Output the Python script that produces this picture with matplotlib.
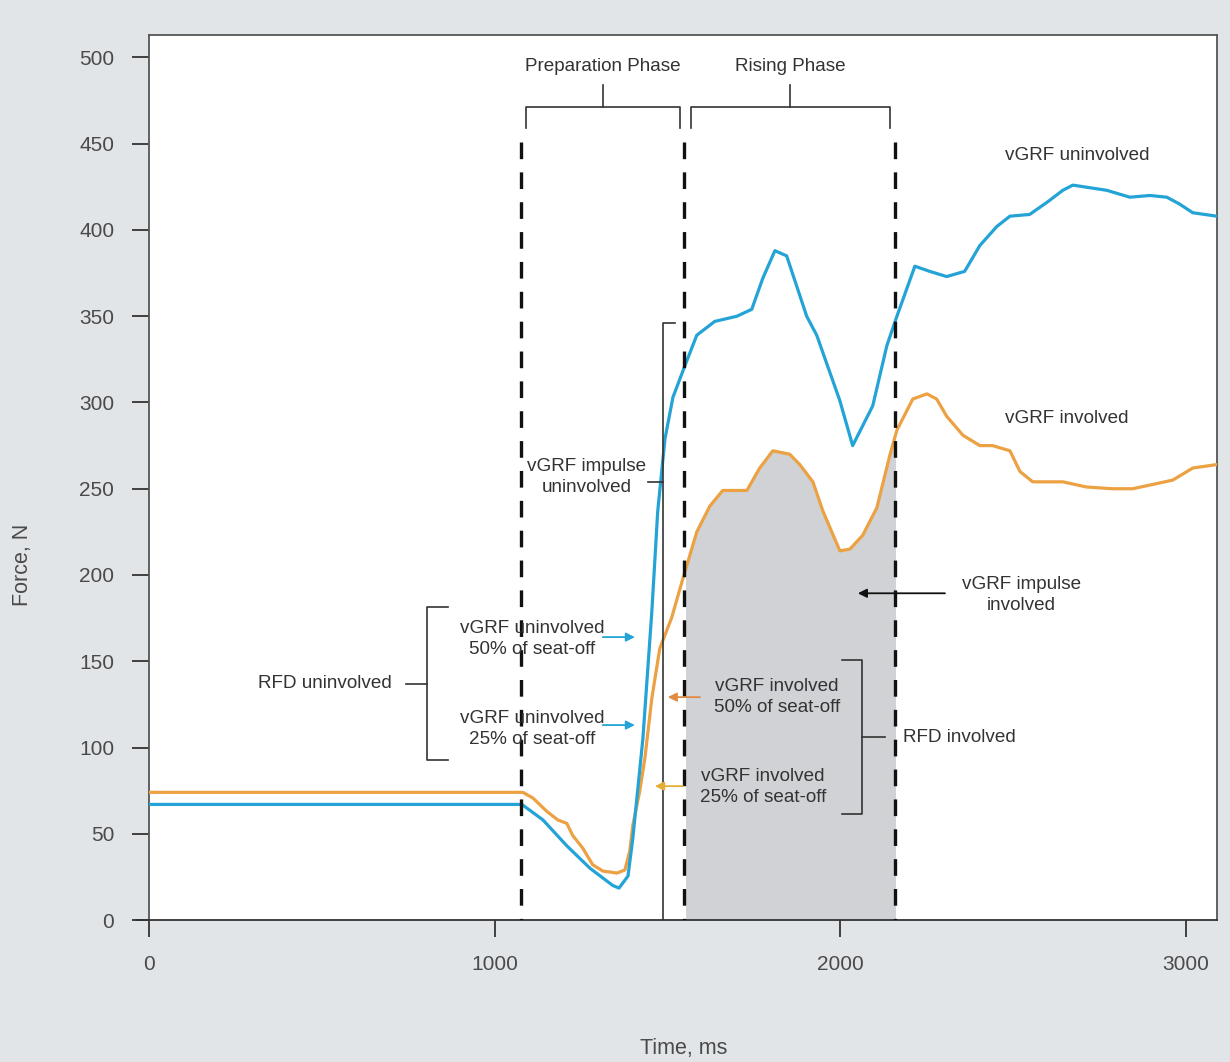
import numpy as np
import matplotlib.pyplot as plt
from matplotlib.patches import Rectangle

plt.rcParams['font.family'] = ['Liberation Sans', 'DejaVu Sans']
plt.rcParams['lines.scale_dashes'] = False

# vGRF uninvolved (blue)
t_uninv = [0, 1079, 1140, 1209, 1276, 1342, 1360, 1386, 1400, 1429, 1455, 1472,
           1493, 1516, 1550, 1585, 1637, 1701, 1744, 1776, 1811, 1845, 1903,
           1932, 1999, 2036, 2094, 2135, 2164, 2216, 2259, 2308, 2360, 2404,
           2453, 2491, 2548, 2598, 2644, 2673, 2771, 2838, 2896, 2945, 2982,
           3020, 3089]
f_uninv = [67, 67, 58, 43, 30, 20, 18.5, 25.5, 47.5, 105, 179, 237,
           279, 303, 321, 339, 347, 350, 354, 372, 388, 385, 350,
           339, 301, 275, 298, 333, 350, 379, 376, 373, 376, 391,
           402, 408, 409, 416, 423, 426, 423, 419, 420, 419, 415,
           410, 408]

# vGRF involved (orange)
t_inv = [0, 1082, 1111, 1151, 1183, 1209, 1226, 1255, 1284, 1313, 1354, 1377,
         1391, 1400, 1420, 1435, 1455, 1478, 1512, 1545, 1585, 1623, 1660,
         1730, 1767, 1805, 1854, 1883, 1921, 1950, 1999, 2028, 2065, 2106,
         2143, 2164, 2210, 2251, 2279, 2308, 2355, 2404, 2441, 2491, 2520,
         2557, 2644, 2713, 2788, 2846, 2916, 2962, 3020, 3089]
f_inv = [74, 74, 70.7, 63, 58, 56, 49, 41.7, 32, 28.4, 27.2, 29,
         40, 55, 74.7, 94, 128.6, 157.5, 175, 198, 225, 240, 249,
         249, 262, 272, 270, 264, 254, 237, 214, 215, 223, 239,
         269, 284, 302, 305, 302, 292, 281, 275, 275, 272, 260,
         254, 254, 251, 250, 250, 253, 255, 262, 264]

phase_lines = [1076, 1548, 2158]
x_ticks = [0, 1000, 2000, 3000]
y_ticks = list(range(0, 501, 50))

blue = '#23a3d6'
orange = '#eca143'
txt = '#333333'
fs = 13.6

fig = plt.figure(figsize=(12.3, 10.62), dpi=100, facecolor='#e2e5e8')
ax = fig.add_axes([0.1211, 0.1337, 0.8683, 0.8333])
ax.set_facecolor('white')

# shaded impulse (involved) between the 2nd and 3rd phase lines
shade = ax.fill_between(t_inv, 0, f_inv, color='#d0d2d5', lw=0, zorder=1)
shade.set_clip_path(Rectangle((phase_lines[1] + 6, 0), phase_lines[2] - phase_lines[1] - 6, 600,
                              transform=ax.transData))

ax.plot(t_inv, f_inv, color=orange, lw=2.3, zorder=3)
ax.plot(t_uninv, f_uninv, color=blue, lw=2.3, zorder=3)

# dashes drawn from the top down
ax.vlines(phase_lines, 451, 0, colors='#111111', lw=2.4,
          linestyles=[(0, (12, 9.5))], zorder=4)

k = dict(color='#333333', lw=1.2, zorder=5)
# phase brackets
for a, b, name in [(1091, 1536, 'Preparation Phase'), (1568, 2143, 'Rising Phase')]:
    ax.plot([a, a, b, b], [459, 471, 471, 459], **k)
    m = (a + b) / 2
    ax.plot([m, m], [471, 484], **k)
    ax.text(m, 495, name, ha='center', va='center', fontsize=fs, color=txt)

# impulse uninvolved bracket
ax.plot([1522, 1487, 1487], [346, 346, 0], **k)
ax.plot([1443, 1487], [254, 254], **k)
ax.text(1267, 256.6, 'vGRF impulse\nuninvolved', ha='center', va='center',
        fontsize=fs, color=txt, linespacing=1.3)

# RFD uninvolved bracket
ax.plot([865, 804, 804, 865], [181.3, 181.3, 92.7, 92.7], **k)
ax.plot([743, 804], [136.7, 136.7], **k)
ax.text(509, 137, 'RFD uninvolved', ha='center', va='center', fontsize=fs, color=txt)

# RFD involved bracket
ax.plot([2005, 2062, 2062, 2005], [150.6, 150.6, 61.4, 61.4], **k)
ax.plot([2062, 2129], [106, 106], **k)
ax.text(2181, 106, 'RFD involved', ha='left', va='center', fontsize=fs, color=txt)

ann = [
    ('vGRF uninvolved\n50% of seat-off', 1108, 162.8, 1313, 1406, 164, blue),
    ('vGRF uninvolved\n25% of seat-off', 1108, 110.9, 1313, 1406, 113, blue),
    ('vGRF involved\n50% of seat-off', 1817, 129.5, 1594, 1501, 129.2, '#e08c45'),
    ('vGRF involved\n25% of seat-off', 1776, 77, 1545, 1464, 77.6, '#e6ad35'),
    ('vGRF impulse\ninvolved', 2525, 188.5, 2303, 2051, 189.4, '#111111'),
]
for label, tx, ty, x0, x1, ya, c in ann:
    ax.text(tx, ty, label, ha='center', va='center', fontsize=fs, color=txt,
            linespacing=1.3, zorder=6)
    ax.annotate('', xy=(x1, ya), xytext=(x0, ya),
                arrowprops=dict(arrowstyle='-|>', color=c, lw=1.3,
                                mutation_scale=13, shrinkA=0, shrinkB=0), zorder=6)

ax.text(2687, 443, 'vGRF uninvolved', ha='center', va='center', fontsize=fs, color=txt)
ax.text(2655, 291, 'vGRF involved', ha='center', va='center', fontsize=fs, color=txt)

ax.set_xlim(0, 3090)
ax.set_ylim(0, 513)
ax.set_xticks(x_ticks)
ax.set_yticks(y_ticks)
ax.tick_params(axis='both', direction='out', length=12, width=1.3, color='#333333',
               labelsize=15, labelcolor='#4a4a4a', pad=13)
for s in ax.spines.values():
    s.set_color('#555555')
    s.set_linewidth(1.3)
ax.spines['bottom'].set_color('#333333')
ax.plot([-0.012, 0], [0, 0], transform=ax.transAxes, color='#333333', lw=1.3, clip_on=False)

ax.set_xlabel('Time, ms', fontsize=15.5, color='#4a4a4a')
ax.set_ylabel('Force, N', fontsize=15.5, color='#4a4a4a')
ax.xaxis.set_label_coords(0.501, -0.133)
ax.yaxis.set_label_coords(-0.109, 0.401)

fig.savefig('out.png', dpi=100, facecolor=fig.get_facecolor())
